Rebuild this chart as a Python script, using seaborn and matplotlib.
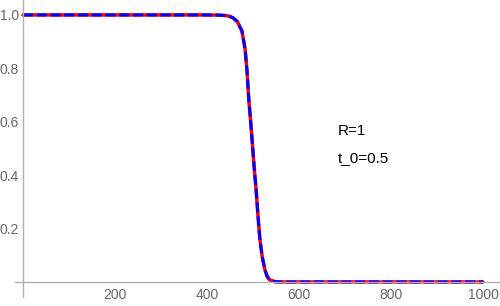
import numpy as np
import pandas as pd
import seaborn as sns
import matplotlib.pyplot as plt
from matplotlib.ticker import MultipleLocator

# values
t = [0, 100, 200, 300, 400, 430, 445, 456, 466, 476, 483, 487, 491, 495,
     499, 503, 507, 511, 515, 520, 526, 531, 537, 548, 560, 700, 850, 1000]
s = [1.0, 1.0, 1.0, 1.0, 1.0, 0.999, 0.997, 0.99, 0.975, 0.94, 0.87, 0.79,
     0.68, 0.60, 0.51, 0.42, 0.34, 0.245, 0.16, 0.095, 0.045, 0.02, 0.007,
     0.001, 0.0, 0.0, 0.0, 0.0]
xticks = [200, 400, 600, 800, 1000]
yticks = [0.2, 0.4, 0.6, 0.8, 1.0]

df = pd.DataFrame({"t": t, "s": s})

sns.set_style("white")
plt.rcParams['font.family'] = ['Liberation Sans', 'DejaVu Sans']

fig = plt.figure(figsize=(5, 3.06), dpi=100)
ax = fig.add_axes([0, 0, 1, 1])

# red solid underneath, blue dashed on top
sns.lineplot(data=df, x="t", y="s", ax=ax, color="#ff0000", lw=2.5)
sns.lineplot(data=df, x="t", y="s", ax=ax, color="#0000ff", lw=2.2)
ax.lines[-1].set_dashes((3.3, 1.2))

ax.set_xlim(-50, 1037)
ax.set_ylim(-0.09, 1.056)

gray = "#b0b0b0"
for side in ["top", "right"]:
    ax.spines[side].set_visible(False)
ax.spines['left'].set_position(('data', 0))
ax.spines['bottom'].set_position(('data', 0))
ax.spines['left'].set_bounds(-0.057, 1.056)
ax.spines['bottom'].set_bounds(-17, 1037)
for side in ["left", "bottom"]:
    ax.spines[side].set_color(gray)
    ax.spines[side].set_linewidth(1.0)

ax.set_xticks(xticks)
ax.set_yticks(yticks)
ax.set_xticklabels([str(v) for v in xticks])
ax.set_yticklabels([f"{v:.1f}" for v in yticks])
ax.xaxis.set_minor_locator(MultipleLocator(50))
ax.yaxis.set_minor_locator(MultipleLocator(0.05))
ax.tick_params(which="both", direction="in", colors=gray, labelcolor="#666666",
               labelsize=10)
ax.tick_params(which="major", length=4, width=0.8)
ax.tick_params(which="minor", length=2.5, width=0.6)
ax.tick_params(axis="x", which="major", pad=4)
ax.tick_params(axis="y", which="major", pad=3)
ax.set_xlabel("")
ax.set_ylabel("")

ax.text(685, 0.565, "R=1", fontsize=11, va="center", ha="left", color="black")
ax.text(685, 0.464, "t_0=0.5", fontsize=11, va="center", ha="left", color="black")

fig.savefig("out.png", dpi=100)
